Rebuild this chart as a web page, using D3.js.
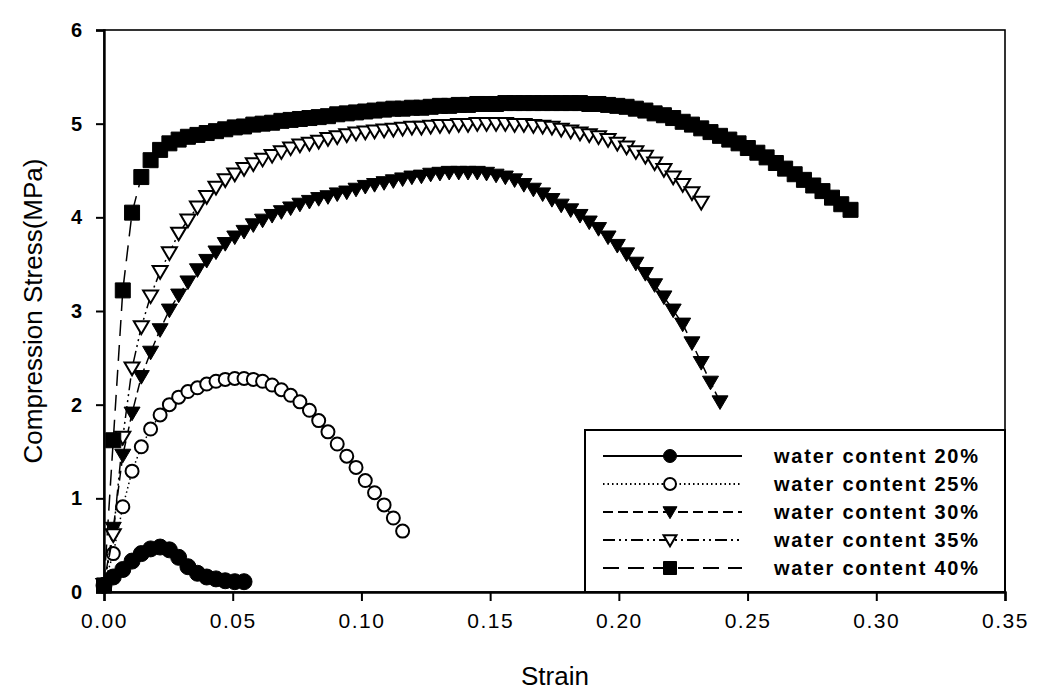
<!DOCTYPE html>
<html>
<head>
<meta charset="utf-8">
<script src="https://cdn.jsdelivr.net/npm/d3@7"></script>
<style>
  html, body { margin: 0; padding: 0; background: #fff; }
  svg { display: block; }
</style>
</head>
<body>
<svg id="chart" width="1037" height="697"></svg>
<script>
// ---- data ----
const strain = [
  0, 0.0036, 0.0073, 0.0109, 0.0145, 0.0181, 0.0218, 0.0254, 0.0290, 0.0326,
  0.0363, 0.0399, 0.0435, 0.0471, 0.0508, 0.0544, 0.0580, 0.0616, 0.0653, 0.0689,
  0.0725, 0.0761, 0.0798, 0.0834, 0.0870, 0.0906, 0.0943, 0.0979, 0.1015, 0.1051,
  0.1088, 0.1124, 0.1160, 0.1196, 0.1233, 0.1269, 0.1305, 0.1341, 0.1378, 0.1414,
  0.1450, 0.1486, 0.1523, 0.1559, 0.1595, 0.1631, 0.1668, 0.1704, 0.1740, 0.1776,
  0.1813, 0.1849, 0.1885, 0.1921, 0.1958, 0.1994, 0.2030, 0.2066, 0.2103, 0.2139,
  0.2175, 0.2211, 0.2248, 0.2284, 0.2320, 0.2356, 0.2393, 0.2429, 0.2465, 0.2501,
  0.2538, 0.2574, 0.2610, 0.2646, 0.2683, 0.2719, 0.2755, 0.2791, 0.2828, 0.2864,
  0.2900
];
const stress20 = [0.07,0.16,0.24,0.33,0.41,0.46,0.48,0.45,0.37,0.27,0.20,0.16,0.14,0.12,0.11,0.11];
const stress25 = [0.08,0.41,0.91,1.29,1.55,1.74,1.89,2.00,2.08,2.14,2.18,2.22,2.25,2.27,2.28,2.28,2.27,2.25,2.21,2.16,2.10,2.03,1.94,1.83,1.71,1.58,1.45,1.33,1.19,1.06,0.93,0.79,0.65];
const stress30 = [0.08,0.68,1.46,1.91,2.30,2.56,2.80,3.01,3.17,3.31,
  3.44,3.54,3.63,3.72,3.79,3.85,3.92,3.97,4.02,4.06,
  4.10,4.14,4.17,4.20,4.22,4.25,4.27,4.30,4.33,4.35,
  4.37,4.39,4.41,4.43,4.44,4.46,4.47,4.48,4.48,4.48,
  4.48,4.47,4.45,4.43,4.40,4.35,4.30,4.25,4.19,4.13,
  4.08,4.02,3.95,3.88,3.79,3.70,3.61,3.51,3.40,3.28,
  3.15,3.01,2.86,2.66,2.45,2.24,2.03];
const stress35 = [0.08,0.61,1.65,2.39,2.83,3.16,3.42,3.62,3.83,3.97,
  4.11,4.22,4.32,4.40,4.46,4.52,4.57,4.62,4.66,4.70,
  4.74,4.77,4.79,4.81,4.84,4.86,4.88,4.90,4.91,4.92,
  4.93,4.94,4.95,4.96,4.96,4.97,4.98,4.98,4.99,4.99,
  5.00,5.00,5.00,5.00,4.99,4.99,4.98,4.97,4.96,4.94,
  4.92,4.90,4.88,4.86,4.83,4.79,4.75,4.70,4.65,4.58,
  4.51,4.43,4.35,4.26,4.16];
const stress40 = [0.07,1.62,3.22,4.05,4.43,4.61,4.72,4.79,4.83,4.86,
  4.88,4.90,4.92,4.94,4.96,4.97,4.99,5.00,5.01,5.03,
  5.04,5.05,5.06,5.07,5.08,5.10,5.11,5.12,5.13,5.14,
  5.15,5.16,5.16,5.17,5.17,5.18,5.19,5.19,5.20,5.20,
  5.21,5.21,5.21,5.22,5.22,5.22,5.22,5.22,5.22,5.22,
  5.22,5.22,5.21,5.21,5.20,5.19,5.18,5.16,5.14,5.11,
  5.09,5.06,5.02,4.99,4.95,4.91,4.87,4.83,4.79,4.74,
  4.69,4.64,4.58,4.52,4.46,4.40,4.34,4.28,4.21,4.14,
  4.08];
const seriesNames = ["water content 20%","water content 25%","water content 30%","water content 35%","water content 40%"];
const xTicks = [0, 0.05, 0.10, 0.15, 0.20, 0.25, 0.30, 0.35];
const yTicks = [0, 1, 2, 3, 4, 5, 6];

// ---- styles ----
const styles = [
  {values: stress20, dash: null,              marker: "circle",   fill: "#000", r: 8},
  {values: stress25, dash: "1.5,3",           marker: "circle",   fill: "#fff", r: 6.5},
  {values: stress30, dash: "10,5",            marker: "tri",      fill: "#000", r: 8},
  {values: stress35, dash: "12,4,2,4,2,4",    marker: "tri",      fill: "#fff", r: 7.5},
  {values: stress40, dash: "16,9",            marker: "square",   fill: "#000", r: 7.5}
];

const svg = d3.select("#chart");
const L = 104, R = 1005, T = 30, B = 592;
const x = d3.scaleLinear().domain([0, 0.35]).range([L, R]);
const y = d3.scaleLinear().domain([0, 6]).range([B, T]);
const FONT = "Liberation Sans, Arial, sans-serif";

function markerPath(type, r) {
  if (type === "circle") return d3.symbol().type(d3.symbolCircle).size(Math.PI * r * r)();
  if (type === "square") return `M${-r},${-r}H${r}V${r}H${-r}Z`;
  // down-pointing triangle
  return `M${-r},${-r * 0.75}L${r},${-r * 0.75}L0,${r * 0.95}Z`;
}

// frame (top & right)
svg.append("rect").attr("x", L).attr("y", T).attr("width", R - L).attr("height", B - T)
  .attr("fill", "none").attr("stroke", "#000").attr("stroke-width", 1.6);

// axes
const xAxis = d3.axisBottom(x).tickValues(xTicks).tickFormat(d3.format(".2f")).tickSize(9).tickPadding(12);
const gx = svg.append("g").attr("transform", `translate(0,${B})`).call(xAxis);
gx.select(".domain").attr("stroke-width", 2.4);
gx.selectAll(".tick line").attr("stroke-width", 2);
gx.selectAll("text").attr("font-family", FONT).attr("font-size", 21)
  .attr("letter-spacing", 1.5).attr("fill", "#000");

const yAxis = d3.axisLeft(y).tickValues(yTicks).tickFormat(d3.format("d")).tickSize(8).tickPadding(14);
const gy = svg.append("g").attr("transform", `translate(${L},0)`).call(yAxis);
gy.select(".domain").attr("stroke-width", 2.4);
gy.selectAll(".tick line").attr("stroke-width", 2);
gy.selectAll("text").attr("font-family", FONT)
  .attr("font-size", 20).attr("font-weight", "bold").attr("fill", "#000");

// axis titles
svg.append("text").attr("x", 555).attr("y", 685).attr("text-anchor", "middle")
  .attr("font-family", FONT).attr("font-size", 26)
  .text("Strain");
svg.append("text").attr("transform", "translate(42,311) rotate(-90)").attr("text-anchor", "middle")
  .attr("font-family", FONT).attr("font-size", 26)
  .text("Compression Stress(MPa)");

// series
const line = d3.line().x(d => x(d[0])).y(d => y(d[1]));
styles.forEach(s => {
  const pts = s.values.map((v, i) => [strain[i], v]);
  const g = svg.append("g");
  g.append("path").attr("d", line(pts)).attr("fill", "none").attr("stroke", "#000")
    .attr("stroke-width", 1.5).attr("stroke-dasharray", s.dash);
  g.selectAll("path.m").data(pts).enter().append("path").attr("class", "m")
    .attr("transform", d => `translate(${x(d[0])},${y(d[1])})`)
    .attr("d", markerPath(s.marker, s.r))
    .attr("fill", s.fill).attr("stroke", "#000").attr("stroke-width", s.fill === "#fff" ? 2 : 1);
});

// legend
const lg = svg.append("g");
lg.append("rect").attr("x", 585).attr("y", 430).attr("width", R - 585).attr("height", B - 430)
  .attr("fill", "#fff").attr("stroke", "#000").attr("stroke-width", 2);
const rowY = [456, 484, 512, 540, 568];
const legR = [6.5, 6, 7, 6.5, 6.5];
styles.forEach((s, i) => {
  const yy = rowY[i];
  lg.append("line").attr("x1", 603).attr("x2", 742).attr("y1", yy).attr("y2", yy)
    .attr("stroke", "#000").attr("stroke-width", 1.8).attr("stroke-dasharray", s.dash);
  lg.append("path").attr("transform", `translate(670,${yy})`).attr("d", markerPath(s.marker, legR[i]))
    .attr("fill", s.fill).attr("stroke", "#000").attr("stroke-width", s.fill === "#fff" ? 2 : 1);
  lg.append("text").attr("x", 774).attr("y", yy + 7)
    .attr("font-family", FONT).attr("font-size", 20).attr("font-weight", "bold")
    .attr("textLength", 204).attr("lengthAdjust", "spacing")
    .text(seriesNames[i]);
});
</script>
</body>
</html>
